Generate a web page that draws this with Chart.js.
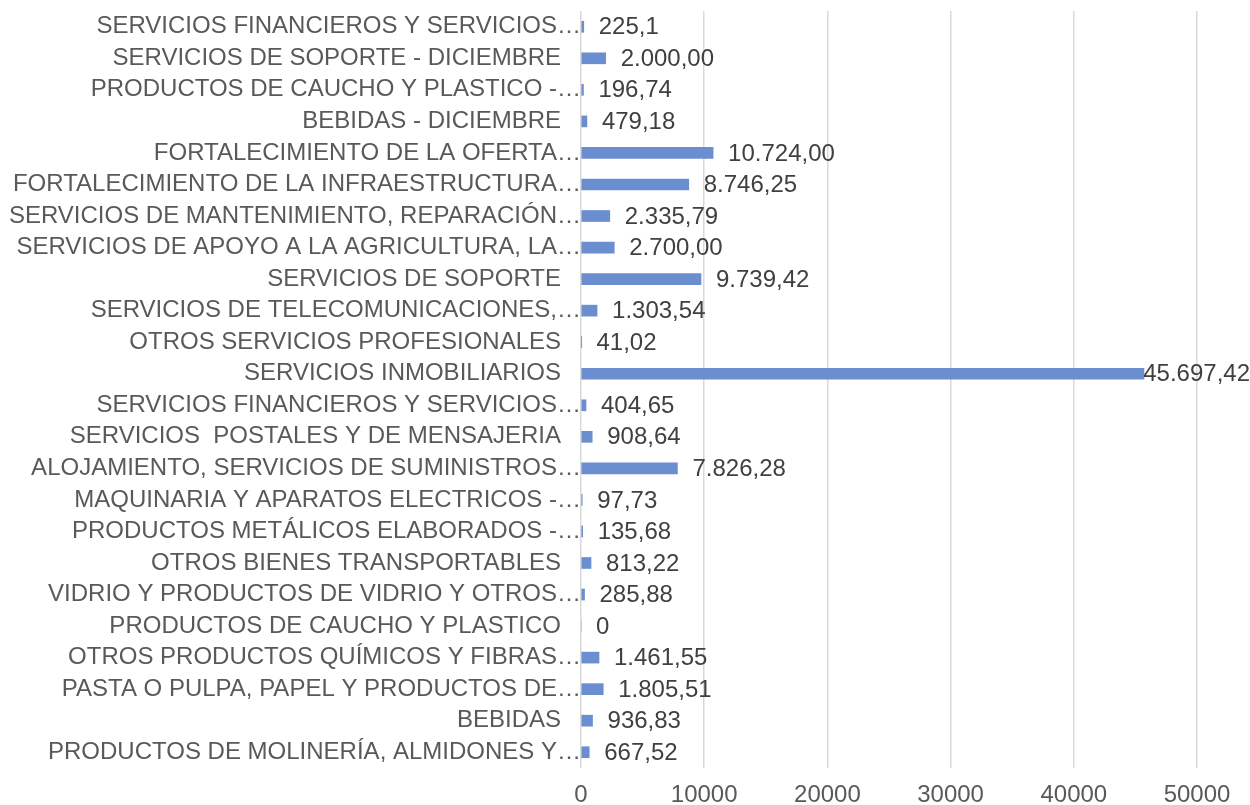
<!DOCTYPE html>
<html>
<head>
<meta charset="utf-8">
<script src="https://cdn.jsdelivr.net/npm/chart.js@4.4.0/dist/chart.umd.min.js"></script>
<style>
  body { margin: 0; background: #fff; }
  canvas { display: block; }
</style>
</head>
<body>
<canvas id="myChart" width="1250" height="805"></canvas>
<script>
const categories = [
  'SERVICIOS FINANCIEROS Y SERVICIOS…',
  'SERVICIOS DE SOPORTE - DICIEMBRE',
  'PRODUCTOS DE CAUCHO Y PLASTICO -…',
  'BEBIDAS - DICIEMBRE',
  'FORTALECIMIENTO DE LA OFERTA…',
  'FORTALECIMIENTO DE LA INFRAESTRUCTURA…',
  'SERVICIOS DE MANTENIMIENTO, REPARACIÓN…',
  'SERVICIOS DE APOYO A LA AGRICULTURA, LA…',
  'SERVICIOS DE SOPORTE',
  'SERVICIOS DE TELECOMUNICACIONES,…',
  'OTROS SERVICIOS PROFESIONALES',
  'SERVICIOS INMOBILIARIOS',
  'SERVICIOS FINANCIEROS Y SERVICIOS…',
  'SERVICIOS  POSTALES Y DE MENSAJERIA',
  'ALOJAMIENTO, SERVICIOS DE SUMINISTROS…',
  'MAQUINARIA Y APARATOS ELECTRICOS -…',
  'PRODUCTOS METÁLICOS ELABORADOS -…',
  'OTROS BIENES TRANSPORTABLES',
  'VIDRIO Y PRODUCTOS DE VIDRIO Y OTROS…',
  'PRODUCTOS DE CAUCHO Y PLASTICO',
  'OTROS PRODUCTOS QUÍMICOS Y FIBRAS…',
  'PASTA O PULPA, PAPEL Y PRODUCTOS DE…',
  'BEBIDAS',
  'PRODUCTOS DE MOLINERÍA, ALMIDONES Y…'
];

const values = [
  225.1, 2000, 196.74, 479.18, 10724, 8746.25, 2335.79, 2700,
  9739.42, 1303.54, 41.02, 45697.42, 404.65, 908.64, 7826.28, 97.73,
  135.68, 813.22, 285.88, 0, 1461.55, 1805.51, 936.83, 667.52
];

const valueLabels = [
  '225,1', '2.000,00', '196,74', '479,18', '10.724,00', '8.746,25', '2.335,79', '2.700,00',
  '9.739,42', '1.303,54', '41,02', '45.697,42', '404,65', '908,64', '7.826,28', '97,73',
  '135,68', '813,22', '285,88', '0', '1.461,55', '1.805,51', '936,83', '667,52'
];

const xTicks = [0, 10000, 20000, 30000, 40000, 50000];

const FONT = 'Liberation Sans, Arial, sans-serif';
const FONT_SIZE = 24;

// value labels to the right of each bar, kept inside the canvas
const barLabels = {
  id: 'barLabels',
  afterDatasetsDraw(chart) {
    const ctx = chart.ctx;
    const meta = chart.getDatasetMeta(0);
    ctx.save();
    ctx.font = FONT_SIZE + 'px ' + FONT;
    ctx.fillStyle = '#404040';
    ctx.textAlign = 'left';
    ctx.textBaseline = 'middle';
    meta.data.forEach((bar, i) => {
      const txt = valueLabels[i];
      const w = ctx.measureText(txt).width;
      let x = bar.x + 15;
      if (x + w > chart.width) x = chart.width - w;
      ctx.fillText(txt, x, bar.y + 1);
    });
    ctx.restore();
  }
};

const ctx = document.getElementById('myChart').getContext('2d');
new Chart(ctx, {
  type: 'bar',
  data: {
    labels: categories,
    datasets: [{
      data: values,
      backgroundColor: '#6A8ECF',
      barThickness: 11
    }]
  },
  options: {
    indexAxis: 'y',
    responsive: false,
    animation: false,
    layout: { padding: { left: 0, right: 53, top: 11, bottom: 0 } },
    plugins: {
      legend: { display: false },
      tooltip: { enabled: false }
    },
    scales: {
      x: {
        min: 0,
        max: 50000,
        afterBuildTicks: (axis) => { axis.ticks = xTicks.map(v => ({ value: v })); },
        afterFit: (axis) => { axis.height = 37; axis.paddingLeft = 0; axis.paddingRight = 0; },
        ticks: {
          padding: 13,
          color: '#595959',
          font: { family: FONT, size: FONT_SIZE },
          maxRotation: 0,
          callback: (v) => String(v)
        },
        grid: { color: '#d9d9d9', lineWidth: 1.5, drawTicks: false },
        border: { display: false }
      },
      y: {
        afterFit: (axis) => { axis.width = 581; axis.paddingTop = 0; axis.paddingBottom = 0; },
        ticks: {
          padding: -8,
          autoSkip: false,
          color: '#595959',
          font: { family: FONT, size: FONT_SIZE },
          callback: function (v, i) {
            const s = categories[i];
            return s.endsWith('…') ? s : s + '   ';
          }
        },
        grid: { display: false },
        border: { display: false }
      }
    }
  },
  plugins: [barLabels]
});
</script>
</body>
</html>
